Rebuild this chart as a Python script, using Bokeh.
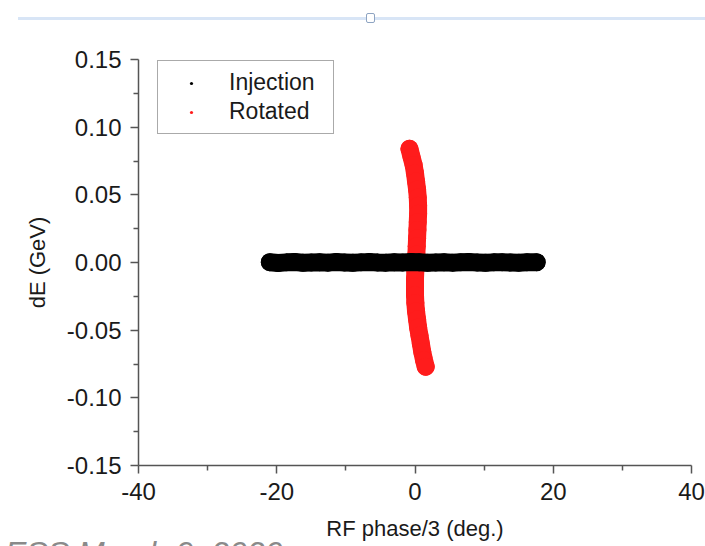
from bokeh.plotting import figure
from bokeh.layouts import column
from bokeh.models import (Range1d, FixedTicker, PrintfTickFormatter, Legend,
                          LegendItem, Div)
from bokeh.embed import file_html
from bokeh.resources import INLINE

# ---- data ----
# Injection bunch: long flat band around dE = 0
inj_x = [-21.0, -19.8, -18.6, -17.4, -16.2, -15.0, -13.8, -12.6, -11.4, -10.2,
         -9.0, -7.8, -6.6, -5.4, -4.2, -3.0, -1.8, -0.6, 0.6, 1.8,
         3.0, 4.2, 5.4, 6.6, 7.8, 9.0, 10.2, 11.4, 12.6, 13.8,
         15.0, 16.2, 17.6]
inj_y = [0.0002, -0.0003, 0.0001, 0.0003, -0.0002, 0.0000, 0.0002, -0.0001, 0.0003, 0.0000,
         -0.0002, 0.0001, 0.0003, 0.0000, -0.0001, 0.0002, 0.0000, 0.0003, 0.0001, -0.0002,
         0.0000, 0.0002, -0.0001, 0.0001, 0.0003, 0.0000, -0.0002, 0.0001, 0.0002, 0.0000,
         -0.0001, 0.0001, 0.0002]

# Rotated bunch: tall, slightly curved band near phase 0
rot_y = [0.084, 0.078, 0.072, 0.066, 0.060, 0.054, 0.048, 0.042, 0.036, 0.030,
         0.024, 0.018, 0.012, 0.006, 0.000, -0.006, -0.012, -0.018, -0.024, -0.030,
         -0.036, -0.042, -0.048, -0.054, -0.060, -0.066, -0.072, -0.077]
rot_x = [-0.8, -0.5, -0.2, 0.0, 0.15, 0.3, 0.4, 0.45, 0.45, 0.4,
         0.35, 0.3, 0.25, 0.2, 0.1, 0.05, 0.0, 0.0, 0.0, 0.05,
         0.15, 0.3, 0.45, 0.65, 0.85, 1.05, 1.3, 1.55]

x_ticks = [-40, -20, 0, 20, 40]
x_minor = [-30, -10, 10, 30]
y_ticks = [-0.15, -0.10, -0.05, 0.0, 0.05, 0.10, 0.15]
y_minor = [-0.125, -0.075, -0.025, 0.025, 0.075, 0.125]

x_title = "RF phase/3 (deg.)"
y_title = "dE (GeV)"
footer = "ESS March 9, 2020"

FONT = "Liberation Sans"
AX = "#555555"
RED = "#ff1c1c"

p = figure(width=705, height=546, output_backend="svg", toolbar_location=None,
           x_range=Range1d(-40, 40), y_range=Range1d(-0.15, 0.15),
           min_border_left=138, min_border_right=14,
           min_border_top=59, min_border_bottom=81)
p.grid.visible = False
p.outline_line_color = None
p.background_fill_color = "white"
p.border_fill_color = "white"

# rotated bunch (drawn first, injection lies on top)
p.line(rot_x, rot_y, line_width=18, line_color=RED, line_cap="round",
       line_join="round")
r_rot = p.scatter(rot_x, rot_y, size=18, marker="circle",
                  fill_color=RED, line_color=None)
# injection bunch
p.line(inj_x, inj_y, line_width=18, line_color="black", line_cap="round",
       line_join="round")
r_inj = p.scatter(inj_x, inj_y, size=18, marker="circle",
                  fill_color="black", line_color=None)

p.xaxis.ticker = FixedTicker(ticks=x_ticks, minor_ticks=x_minor)
p.yaxis.ticker = FixedTicker(ticks=y_ticks, minor_ticks=y_minor)
p.xaxis.formatter = PrintfTickFormatter(format="%d")
p.yaxis.formatter = PrintfTickFormatter(format="%.2f")

for ax in (p.xaxis[0], p.yaxis[0]):
    ax.axis_line_color = AX
    ax.axis_line_width = 1.5
    ax.major_tick_line_color = AX
    ax.major_tick_line_width = 1.5
    ax.minor_tick_line_color = AX
    ax.minor_tick_line_width = 1.5
    ax.major_tick_in = 0
    ax.major_tick_out = 8
    ax.minor_tick_in = 0
    ax.minor_tick_out = 5
    ax.major_label_text_font = FONT
    ax.major_label_text_font_size = "24px"
    ax.major_label_text_color = "#1a1a1a"
    ax.axis_label_text_font = FONT
    ax.axis_label_text_font_size = "22px"
    ax.axis_label_text_font_style = "normal"
    ax.axis_label_text_color = "#1a1a1a"
p.xaxis.major_label_standoff = 9
p.yaxis.major_label_standoff = 9
p.xaxis.axis_label = x_title
p.yaxis.axis_label = y_title
p.xaxis.axis_label_standoff = 13
p.yaxis.axis_label_standoff = 14

legend = Legend(items=[LegendItem(label="Injection", renderers=[r_inj]),
                       LegendItem(label="Rotated", renderers=[r_rot])],
                location=(19, 331), margin=0, padding=8, spacing=2,
                glyph_width=50, glyph_height=8, label_height=20,
                label_width=96, label_standoff=13,
                label_text_font=FONT, label_text_font_size="23px",
                label_text_color="#1a1a1a",
                border_line_color=AX, border_line_width=1.3,
                background_fill_color="white", background_fill_alpha=1.0)
p.add_layout(legend)

# slide footer, cut by the bottom edge of the page as in the reference
foot = Div(text=footer, width=320, height=15,
           styles={"position": "absolute", "left": "0px", "top": "531px",
                   "overflow": "hidden", "color": "#8a8a8a",
                   "font-family": FONT, "font-style": "italic",
                   "font-size": "32px", "line-height": "1.1",
                   "white-space": "nowrap"})
# thin light-blue frame line and handle at the top of the slide screenshot
top_line = Div(text="", width=692, height=3,
               styles={"position": "absolute", "left": "13px", "top": "12px",
                       "background-color": "#d8e5f6"})
handle = Div(text="", width=9, height=10,
             styles={"position": "absolute", "left": "361px", "top": "8px",
                     "background-color": "white",
                     "border": "1.5px solid #8ea4c2",
                     "border-radius": "2px"})

layout = column(p, top_line, handle, foot)
open("out.html", "w").write(file_html(layout, INLINE))
